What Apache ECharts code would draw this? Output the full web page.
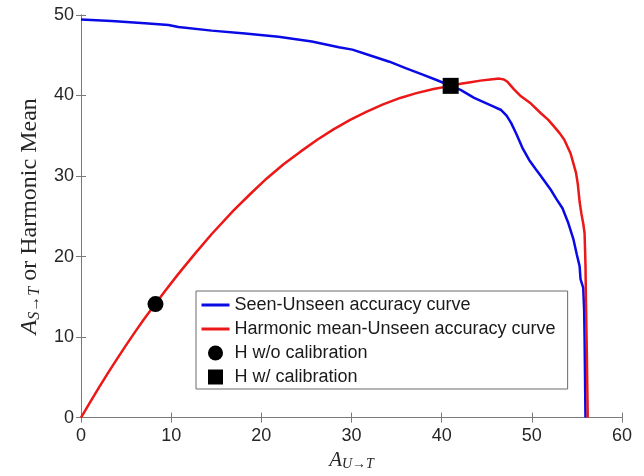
<!DOCTYPE html>
<html>
<head>
<meta charset="utf-8">
<script src="https://cdn.jsdelivr.net/npm/echarts@6/dist/echarts.min.js"></script>
<style>html,body{margin:0;padding:0;background:#fff}#c{width:644px;height:476px}</style>
</head>
<body>
<div id="c"></div>
<script>
// Tick values
const xTicks = [0, 10, 20, 30, 40, 50, 60];
const yTicks = [0, 10, 20, 30, 40, 50];

// Seen-Unseen accuracy curve: [A_U->T, A_S->T]
const seenUnseen = [
  [0,49.45],[3.4,49.25],[7.1,48.97],[9.7,48.76],[10.8,48.5],[14.5,48.06],[18.2,47.7],
  [21.9,47.3],[25.6,46.7],[28.6,46.0],[30.1,45.7],[32,45.0],[34.2,44.2],[36,43.4],
  [37.9,42.6],[39.5,41.9],[41,41.2],[42.1,40.7],[43.6,39.7],[45.4,38.8],[46.6,38.2],
  [47.2,37.5],[47.7,36.6],[48.3,35.2],[49.0,33.4],[49.7,32.0],[50.4,30.9],[51.0,30.0],
  [52.1,28.3],[52.7,27.2],[53.4,26.0],[54.0,24.3],[54.6,22.2],[55.0,20.2],[55.3,18.8],
  [55.4,17.2],[55.7,16.1],[55.8,13.4],[55.85,10],[55.9,5],[55.95,0]
];

// Harmonic mean-Unseen accuracy curve: [A_U->T, H]
const harmonicUnseen = [
  [0,0],[1,1.9],[2,3.75],[3,5.55],[4,7.3],[5,9.0],[6,10.65],[7,12.25],[8.26,14.15],
  [9.3,15.7],[10.8,17.85],[12.6,20.3],[14.5,22.8],[16.9,25.7],[18.8,27.8],[20.6,29.7],
  [22.5,31.5],[24.3,33.0],[26.2,34.5],[28,35.8],[29.9,37.0],[31.7,38.0],[33.5,38.9],
  [35.4,39.7],[37.2,40.3],[39.1,40.8],[41,41.2],[42.1,41.45],[43.2,41.65],[44.3,41.85],
  [45.4,42.0],[46.4,42.1],[46.9,42.0],[47.3,41.7],[48,40.8],[48.8,39.9],[49.9,39.0],
  [51.0,37.8],[51.8,37.0],[52.5,36.1],[53.1,35.3],[53.6,34.5],[54.3,32.8],[54.6,31.6],
  [54.9,30.4],[55.1,29.0],[55.3,26.8],[55.5,25.3],[55.7,24.1],[55.85,22.9],[55.95,19],
  [56.0,14.6],[56.1,8],[56.2,0]
];

// Operating points
const hWithoutCal = [[8.26, 14.1]];
const hWithCal = [[41, 41.2]];

const seriesNames = [
  'Seen-Unseen accuracy curve',
  'Harmonic mean-Unseen accuracy curve',
  'H w/o calibration',
  'H w/ calibration'
];

const axisGray = '#7a7a7a';
const labelColor = '#262626';
const sans = '"Liberation Sans", Arial, sans-serif';
const serif = '"Liberation Serif", "Times New Roman", serif';

const chart = echarts.init(document.getElementById('c'), null, {renderer: 'canvas'});

const baseAxis = {
  type: 'value',
  splitLine: {show: false},
  axisLine: {show: true, lineStyle: {color: axisGray, width: 1}},
  axisTick: {show: true, inside: true, length: 5, lineStyle: {color: axisGray}},
};

chart.setOption({
  animation: false,
  backgroundColor: '#fff',
  grid: {left: 81, right: 22, top: 15, bottom: 58},
  xAxis: [
    Object.assign({}, baseAxis, {
      min: 0, max: 60, interval: 10, position: 'bottom',
      axisLabel: {color: labelColor, fontSize: 18, fontFamily: sans, margin: 9},
      name: '{i|A}{s|U→T}',
      nameLocation: 'middle',
      nameGap: 30,
      nameTextStyle: {
        color: labelColor,
        rich: {
          i: {fontFamily: serif, fontStyle: 'italic', fontSize: 21, lineHeight: 22, color: labelColor},
          s: {fontFamily: serif, fontStyle: 'italic', fontSize: 14, lineHeight: 12, verticalAlign: 'bottom', color: labelColor}
        }
      }
    }),
    Object.assign({}, baseAxis, {
      min: 0, max: 60, interval: 10, position: 'top',
      axisLabel: {show: false}
    })
  ],
  yAxis: [
    Object.assign({}, baseAxis, {
      min: 0, max: 50, interval: 10, position: 'left',
      axisLabel: {color: labelColor, fontSize: 18, fontFamily: sans, margin: 7},
      name: '{i|A}{s|S→T}{r| or Harmonic Mean}',
      nameLocation: 'middle',
      nameGap: 32,
      nameTextStyle: {
        color: labelColor,
        rich: {
          i: {fontFamily: serif, fontStyle: 'italic', fontSize: 24, lineHeight: 26, color: labelColor},
          s: {fontFamily: serif, fontStyle: 'italic', fontSize: 16, lineHeight: 14, verticalAlign: 'bottom', color: labelColor},
          r: {fontFamily: serif, fontSize: 24, lineHeight: 26, color: labelColor}
        }
      }
    }),
    Object.assign({}, baseAxis, {
      min: 0, max: 50, interval: 10, position: 'right',
      axisLabel: {show: false}
    })
  ],
  legend: {
    orient: 'vertical',
    left: 196,
    top: 291,
    itemWidth: 28,
    itemHeight: 15,
    itemGap: 6,
    padding: [5, 12, 3, 4],
    backgroundColor: '#fff',
    borderColor: '#6a6a6a',
    borderWidth: 1,
    borderRadius: 0,
    textStyle: {color: '#1a1a1a', fontSize: 18, fontFamily: sans, lineHeight: 18},
    data: [
      {name: seriesNames[0], itemStyle: {opacity: 0}, lineStyle: {width: 3}},
      {name: seriesNames[1], itemStyle: {opacity: 0}, lineStyle: {width: 3}},
      {name: seriesNames[2], icon: 'circle'},
      {name: seriesNames[3], icon: 'path://M0,0h10v10h-10z'}
    ]
  },
  series: [
    {
      name: seriesNames[0], type: 'line', data: seenUnseen,
      xAxisIndex: 0, yAxisIndex: 0,
      symbol: 'none', lineStyle: {color: '#0a0ae6', width: 2.5}, itemStyle: {color: '#0a0ae6'},
      z: 2
    },
    {
      name: seriesNames[1], type: 'line', data: harmonicUnseen,
      xAxisIndex: 0, yAxisIndex: 0,
      symbol: 'none', lineStyle: {color: '#ec1717', width: 2.5}, itemStyle: {color: '#ec1717'},
      z: 3
    },
    {
      name: seriesNames[2], type: 'scatter', data: hWithoutCal,
      xAxisIndex: 0, yAxisIndex: 0,
      symbol: 'circle', symbolSize: 16, itemStyle: {color: '#000', opacity: 1},
      z: 4
    },
    {
      name: seriesNames[3], type: 'scatter', data: hWithCal,
      xAxisIndex: 0, yAxisIndex: 0,
      symbol: 'rect', symbolSize: 16, itemStyle: {color: '#000', opacity: 1},
      z: 4
    }
  ]
});
</script>
</body>
</html>
